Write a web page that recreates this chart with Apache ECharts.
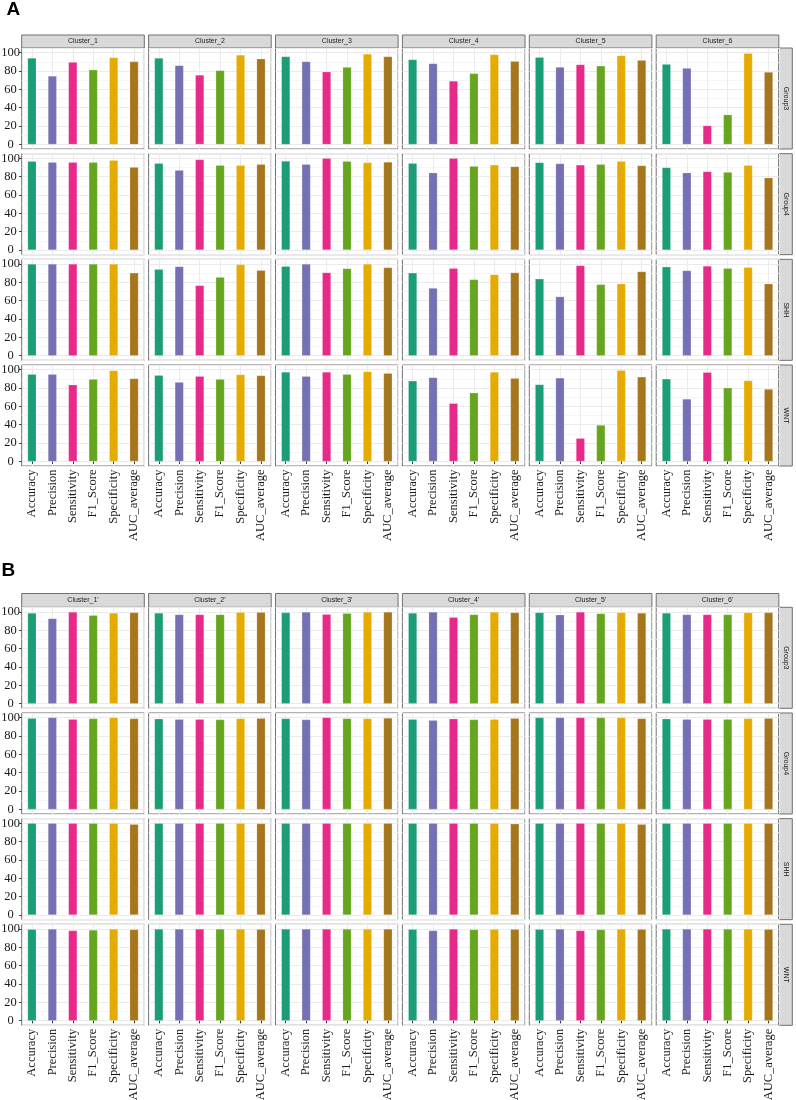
<!DOCTYPE html>
<html>
<head>
<meta charset="utf-8">
<script src="https://cdn.jsdelivr.net/npm/echarts@6/dist/echarts.min.js"></script>
<style>
html, body { margin: 0; padding: 0; background: #fff; }
#chart { width: 796px; height: 1100px; }
</style>
</head>
<body>
<div id="chart"></div>
<script>
var metrics = ['Accuracy', 'Precision', 'Sensitivity', 'F1_Score', 'Specificity', 'AUC_average'];
var groups = ['Group3', 'Group4', 'SHH', 'WNT'];
var clustersA = ['Cluster_1', 'Cluster_2', 'Cluster_3', 'Cluster_4', 'Cluster_5', 'Cluster_6'];
var clustersB = ["Cluster_1'", "Cluster_2'", "Cluster_3'", "Cluster_4'", "Cluster_5'", "Cluster_6'"];
var yTicks = [0, 20, 40, 60, 80, 100];
var palette = ['#1B9E77', '#7570B3', '#E7298A', '#66A61E', '#E6AB02', '#A6761D'];

// panel A, one row per cluster, values in metrics order
var a_Group3 = [
    [94.0, 74.5, 89.6, 81.3, 94.6, 90.3],
    [94.0, 86.0, 75.6, 80.6, 97.5, 93.2],
    [95.7, 90.3, 79.1, 84.2, 98.6, 95.7],
    [92.4, 88.1, 69.1, 77.3, 97.8, 90.6],
    [95.0, 84.2, 87.0, 85.6, 96.8, 91.7],
    [87.4, 83.1, 20.5, 32.4, 99.3, 78.8]
];
var a_Group4 = [
    [96.8, 95.7, 95.7, 95.7, 97.8, 90.3],
    [94.6, 87.0, 98.6, 92.4, 92.4, 93.5],
    [97.1, 93.5, 100, 96.8, 95.3, 96.0],
    [94.6, 84.2, 100, 91.4, 92.8, 91.0],
    [95.3, 94.2, 92.8, 93.5, 96.8, 92.1],
    [89.9, 84.2, 85.6, 84.9, 92.4, 78.8]
];
var a_SHH = [
    [100, 100, 100, 100, 100, 90.3],
    [94.2, 97.1, 76.6, 85.6, 99.3, 93.2],
    [97.5, 100, 90.6, 95.0, 100, 96.0],
    [90.3, 73.7, 95.3, 83.1, 88.5, 90.6],
    [83.8, 64.4, 98.2, 77.7, 78.4, 91.7],
    [96.8, 92.8, 97.8, 95.3, 96.4, 78.4]
];
var a_WNT = [
    [95.0, 95.0, 83.5, 89.6, 98.9, 90.3],
    [93.9, 86.3, 92.8, 89.6, 94.6, 93.5],
    [97.5, 92.8, 97.5, 95.0, 97.8, 96.0],
    [87.8, 91.4, 63.3, 74.8, 97.5, 90.6],
    [83.8, 91.0, 25.2, 39.6, 99.3, 92.1],
    [89.9, 68.0, 97.1, 80.2, 88.1, 78.8]
];

// panel B
var b_Group3 = [
    [98.9, 92.8, 100, 96.4, 98.9, 99.3],
    [98.9, 97.1, 97.1, 97.1, 99.6, 99.6],
    [99.3, 100, 97.5, 98.6, 100, 100],
    [98.9, 100, 94.2, 97.1, 100, 99.3],
    [99.3, 96.8, 100, 98.2, 99.3, 98.9],
    [98.9, 97.1, 97.1, 97.1, 99.3, 99.3]
];
var b_Group4 = [
    [99.3, 100, 98.2, 98.9, 100, 98.9],
    [98.6, 98.2, 98.2, 97.8, 98.9, 99.3],
    [98.9, 97.8, 100, 98.9, 98.9, 99.6],
    [98.2, 97.1, 98.6, 97.8, 98.2, 99.3],
    [100, 100, 100, 100, 100, 98.9],
    [98.6, 98.2, 98.2, 98.2, 98.9, 99.3]
];
var b_SHH = [
    [100, 100, 100, 100, 100, 98.9],
    [100, 100, 100, 100, 100, 99.6],
    [100, 100, 100, 100, 100, 100],
    [100, 100, 100, 100, 100, 99.3],
    [100, 100, 100, 100, 100, 98.9],
    [100, 100, 100, 100, 100, 100]
];
var b_WNT = [
    [99.6, 100, 98.2, 98.9, 100, 99.3],
    [100, 100, 100, 100, 100, 99.6],
    [100, 100, 100, 100, 100, 100],
    [99.6, 98.2, 100, 99.3, 99.6, 99.6],
    [99.6, 100, 98.2, 99.3, 100, 99.6],
    [100, 100, 100, 100, 100, 99.6]
];

var blockTags = ['A', 'B'];
var blockClusters = [clustersA, clustersB];
var blockValues = [[a_Group3, a_Group4, a_SHH, a_WNT], [b_Group3, b_Group4, b_SHH, b_WNT]];

// layout (px)
var LEFT0 = 21.7, PW = 122.6, CP = 126.9, PH = 101, RP = 105.67, RSTRIP_W = 13.5;
var blockTop = [48, 607.3];
var stripTop = [35, 593.5];
var tagPos = [[6.5, 0], [1.5, 561.5]];
var BORDER = '#707070';
var SERIF = '"Liberation Serif", "Times New Roman", serif';
var SANS = '"Liberation Sans", Arial, sans-serif';
var Y_MIN = -5, Y_MAX = 105, Y_STEP = 5;

// helper category axes: one for vertical grid lines at bar centres,
// one for the left tick marks / labels (no ticks at the padded ends)
var gridCats = metrics.map(m => m + '_l').concat(metrics.map(m => m + '_r'));
var tickSlots = [];
for (var t = Y_MIN; t <= Y_MAX; t += Y_STEP) tickSlots.push(String(t));
var onTick = (i, v) => yTicks.indexOf(Number(v)) >= 0;

var grids = [], xAxes = [], yAxes = [], series = [], graphics = [];

blockTags.forEach((tag, bi) => {
    graphics.push({
        type: 'text', x: tagPos[bi][0], y: tagPos[bi][1], silent: true,
        style: { text: tag, font: 'bold 19px ' + SANS, fill: '#000', textVerticalAlign: 'top' }
    });
    blockClusters[bi].forEach((cl, c) => {
        var left = LEFT0 + c * CP;
        graphics.push({
            type: 'rect', silent: true,
            shape: { x: left, y: stripTop[bi], width: PW, height: blockTop[bi] - stripTop[bi] },
            style: { fill: '#d9d9d9', stroke: BORDER, lineWidth: 1 }
        });
        graphics.push({
            type: 'text', silent: true, x: left + PW / 2, y: (stripTop[bi] + blockTop[bi]) / 2,
            style: { text: cl, font: '7px ' + SANS, fill: '#1a1a1a', textAlign: 'center', textVerticalAlign: 'middle' }
        });
    });
    groups.forEach((grp, r) => {
        var top = blockTop[bi] + r * RP;
        var sx = LEFT0 + 5 * CP + PW;
        graphics.push({
            type: 'rect', silent: true,
            shape: { x: sx, y: top, width: RSTRIP_W, height: PH },
            style: { fill: '#d9d9d9', stroke: BORDER, lineWidth: 1 }
        });
        graphics.push({
            type: 'text', silent: true, x: sx + RSTRIP_W / 2, y: top + PH / 2, rotation: -Math.PI / 2,
            style: { text: grp, font: '7px ' + SANS, fill: '#1a1a1a', textAlign: 'center', textVerticalAlign: 'middle' }
        });

        blockClusters[bi].forEach((cl, c) => {
            var g = grids.length;
            var bottomRow = r === groups.length - 1;
            grids.push({
                left: LEFT0 + c * CP, top: top, width: PW, height: PH,
                outerBoundsMode: 'none', containLabel: false,
                show: true, borderColor: BORDER, borderWidth: 1, backgroundColor: 'transparent'
            });
            xAxes.push({
                gridIndex: g, type: 'category', data: metrics, boundaryGap: true,
                axisLine: { show: false },
                axisTick: { show: bottomRow, alignWithLabel: true, length: 2.5, lineStyle: { color: '#333' } },
                axisLabel: {
                    show: bottomRow, interval: 0, rotate: 90, margin: 3.5,
                    fontFamily: SERIF, fontSize: 12.5, color: '#1a1a1a'
                },
                splitLine: { show: false }
            });
            xAxes.push({
                gridIndex: g, type: 'category', data: gridCats, boundaryGap: true,
                axisLine: { show: false }, axisTick: { show: false }, axisLabel: { show: false },
                splitLine: { show: true, interval: (i) => i % 2 === 1, lineStyle: { color: '#ebebeb', width: 1 } }
            });
            var yi = yAxes.length;
            yAxes.push({
                gridIndex: g, type: 'value', min: Y_MIN, max: Y_MAX, splitNumber: 5,
                axisLine: { show: false }, axisTick: { show: false }, axisLabel: { show: false },
                splitLine: { show: true, lineStyle: { color: '#ebebeb', width: 1 } },
                minorTick: { show: false, splitNumber: 2 },
                minorSplitLine: { show: true, lineStyle: { color: '#f5f5f5', width: 1 } }
            });
            if (c === 0) {
                yAxes.push({
                    gridIndex: g, type: 'category', data: tickSlots, boundaryGap: false, position: 'left',
                    axisLine: { show: false },
                    axisTick: { show: true, interval: onTick, length: 2.5, lineStyle: { color: '#333' } },
                    axisLabel: {
                        show: true, interval: onTick, align: 'center', margin: 11.2,
                        fontFamily: SERIF, fontSize: 12.5, color: '#1a1a1a'
                    },
                    splitLine: { show: false }
                });
            }
            series.push({
                type: 'bar', xAxisIndex: 2 * g, yAxisIndex: yi,
                data: blockValues[bi][r][c], barWidth: 8.7, colorBy: 'data',
                itemStyle: { borderColor: 'rgba(255,255,255,0.35)', borderWidth: 0.5 },
                silent: true
            });
        });
    });
});

var myChart = echarts.init(document.getElementById('chart'));
myChart.setOption({
    animation: false,
    backgroundColor: '#fff',
    color: palette,
    grid: grids,
    xAxis: xAxes,
    yAxis: yAxes,
    series: series,
    graphic: graphics
});
</script>
</body>
</html>
